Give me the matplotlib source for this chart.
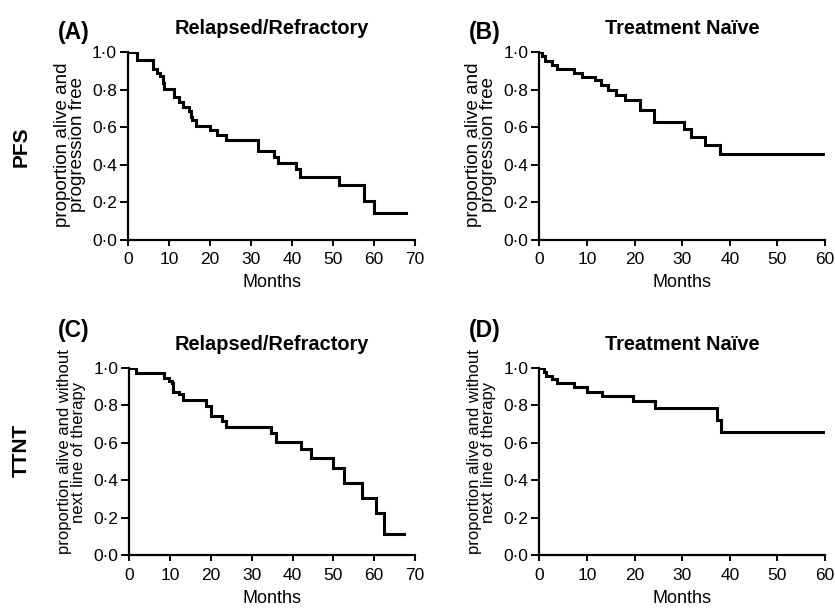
import matplotlib
matplotlib.use("Agg")
import matplotlib.pyplot as plt

plt.rcParams['font.family'] = ['Liberation Sans', 'DejaVu Sans']

# Panel A: PFS, Relapsed/Refractory
a_t = [0, 2.2, 6.1, 7.1, 7.9, 8.6, 8.8, 11.2, 12.5, 13.3, 14.9, 15.3, 15.7, 16.5,
       20.1, 21.8, 23.9, 31.8, 35.6, 36.6, 40.9, 42.0, 51.5, 57.6, 59.9, 67.9]
a_s = [1.0, 0.959, 0.909, 0.888, 0.870, 0.835, 0.803, 0.760, 0.732, 0.707, 0.684, 0.654, 0.639, 0.607,
       0.586, 0.560, 0.533, 0.476, 0.440, 0.409, 0.377, 0.337, 0.290, 0.210, 0.142, 0.142]

# Panel B: PFS, Treatment Naive
b_t = [0, 0.56, 1.2, 2.6, 3.8, 7.3, 8.9, 11.7, 12.9, 14.5, 16.2, 18.0, 21.1, 24.1,
       30.4, 31.8, 34.9, 37.9, 60]
b_s = [1.0, 0.980, 0.950, 0.933, 0.909, 0.888, 0.867, 0.849, 0.826, 0.796, 0.773, 0.746, 0.693, 0.625,
       0.590, 0.547, 0.504, 0.458, 0.458]

# Panel C: TTNT, Relapsed/Refractory
c_t = [0, 1.6, 8.5, 9.8, 10.4, 10.8, 12.2, 13.2, 18.7, 19.9, 22.6, 23.6, 34.8, 36.0,
       42.0, 44.6, 49.9, 52.5, 57.0, 60.5, 62.5, 67.2]
c_s = [1.0, 0.970, 0.943, 0.931, 0.917, 0.872, 0.860, 0.828, 0.796, 0.742, 0.716, 0.682, 0.650, 0.606,
       0.567, 0.520, 0.464, 0.384, 0.304, 0.227, 0.112, 0.112]

# Panel D: TTNT, Treatment Naive
d_t = [0, 1.0, 1.4, 2.7, 3.8, 7.3, 10.1, 13.1, 19.6, 24.3, 37.4, 38.2, 59.5]
d_s = [1.0, 0.975, 0.956, 0.938, 0.917, 0.895, 0.872, 0.849, 0.822, 0.783, 0.721, 0.659, 0.659]

titles = ["Relapsed/Refractory", "Treatment Naïve", "Relapsed/Refractory", "Treatment Naïve"]
letters = ["(A)", "(B)", "(C)", "(D)"]
row_labels = ["PFS", "TTNT"]
xmax = [70, 60, 70, 60]
ylabels = ["proportion alive and\nprogression free", "proportion alive and\nprogression free",
           "proportion alive and without\nnext line of therapy", "proportion alive and without\nnext line of therapy"]
yticks = [0.0, 0.2, 0.4, 0.6, 0.8, 1.0]
ytick_labels = ["0·0", "0·2", "0·4", "0·6", "0·8", "1·0"]
xlabel = "Months"

W, H = 835, 612
fig = plt.figure(figsize=(W / 100, H / 100), dpi=100)

boxes = [(128, 415, 52, 240), (539.3, 825, 52, 240),
         (129.3, 415, 367.7, 555.3), (539.3, 825, 367.7, 555.3)]
data = [(a_t, a_s), (b_t, b_s), (c_t, c_s), (d_t, d_s)]
ylab_size = [13.5, 13.5, 12, 12]
ylab_ls = [0.85, 0.85, 0.9, 0.9]
ylab_y = [145, 145, 452, 452]

for i, ((l, r, t, b), (tt, ss)) in enumerate(zip(boxes, data)):
    ax = fig.add_axes([l / W, 1 - b / H, (r - l) / W, (b - t) / H])
    ax.step(tt, ss, where='post', color='black', lw=2.2, solid_joinstyle='miter')
    ax.set_xlim(0, xmax[i])
    ax.set_ylim(0, 1.0)
    ax.set_xticks(range(0, xmax[i] + 1, 10))
    ax.set_yticks(yticks)
    ax.set_yticklabels(ytick_labels)
    for s in ['top', 'right']:
        ax.spines[s].set_visible(False)
    for s in ['left', 'bottom']:
        ax.spines[s].set_linewidth(1.6)
        ax.spines[s].set_clip_on(False)
    ax.tick_params(axis='x', direction='out', length=4, width=1.4, labelsize=12.5, pad=5)
    ax.tick_params(axis='y', direction='out', length=6, width=1.4, labelsize=12.5, pad=2)
    ax.set_xlabel(xlabel, fontsize=13, labelpad=5)
    ax.set_title(titles[i], fontsize=14.4, fontweight='bold', pad=13)
    fig.text((l - 58) / W, 1 - ylab_y[i] / H, ylabels[i], rotation=90, fontsize=ylab_size[i],
             ha='center', va='center', multialignment='center', linespacing=ylab_ls[i])

lx = [74, 485, 74, 485]
ly = [33, 33, 330, 330]
for i in range(4):
    fig.text(lx[i] / W, 1 - ly[i] / H, letters[i], fontsize=16.5, fontweight='bold',
             ha='center', va='center')

fig.text(21 / W, 1 - 147 / H, row_labels[0], fontsize=15, fontweight='bold', rotation=90,
         ha='center', va='center')
fig.text(21 / W, 1 - 450 / H, row_labels[1], fontsize=15, fontweight='bold', rotation=90,
         ha='center', va='center')

fig.savefig("out.png", dpi=100)
